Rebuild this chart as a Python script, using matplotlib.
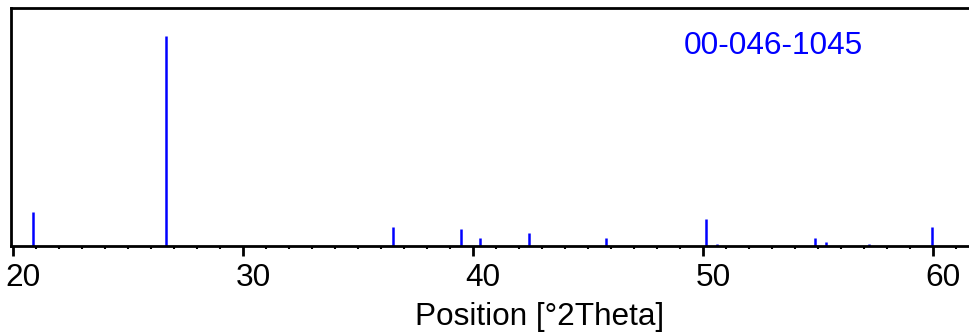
import matplotlib.pyplot as plt
import matplotlib.transforms as mtransforms
from matplotlib.ticker import MultipleLocator

# reference pattern 00-046-1045 (peak position in deg 2theta, relative intensity)
positions = [20.86, 26.64, 36.54, 39.46, 40.30, 42.45, 45.79, 50.14, 50.62, 54.87, 55.33, 57.24, 59.96]
intensities = [16, 100, 9, 8, 4, 6, 4, 13, 1, 4, 2, 1, 9]
ref_code = '00-046-1045'
xticks = [20, 30, 40, 50, 60]

plt.rcParams['font.family'] = ['Liberation Sans', 'DejaVu Sans']

fig = plt.figure(figsize=(9.69, 3.35), dpi=100)
ax = fig.add_axes([11/969, 1 - 246/335, 1 - 11/969, 238/335])

ax.vlines(positions, 0, intensities, colors='#0000ff', linewidth=1.8)

ax.set_xlim(19.91, 61.57)
ax.set_ylim(0, 113.3)
ax.set_xticks(xticks)
ax.xaxis.set_minor_locator(MultipleLocator(1))
ax.set_yticks([])
ax.tick_params(axis='x', which='major', direction='out', length=7, width=2, labelsize=22.7, pad=5)
ax.tick_params(axis='x', which='minor', direction='out', length=2.5, width=1.5)
for side in ['left', 'bottom', 'top']:
    ax.spines[side].set_linewidth(2)
ax.spines['right'].set_visible(False)

# tick labels sit a bit right of their ticks in the original
shift = mtransforms.ScaledTranslation(10/100, 0, fig.dpi_scale_trans)
for lbl in ax.get_xticklabels():
    lbl.set_transform(lbl.get_transform() + shift)

ax.text((773 - 11) / 958, (246 - 46) / 238, ref_code, transform=ax.transAxes,
        color='#0000ff', fontsize=22.7, ha='center', va='center')
ax.set_xlabel('Position [°2Theta]', fontsize=22.7)
ax.xaxis.set_label_coords((540 - 11) / 958, -(317 - 246) / 238)
ax.xaxis.label.set_va('center')

fig.savefig('out.png', dpi=100)
